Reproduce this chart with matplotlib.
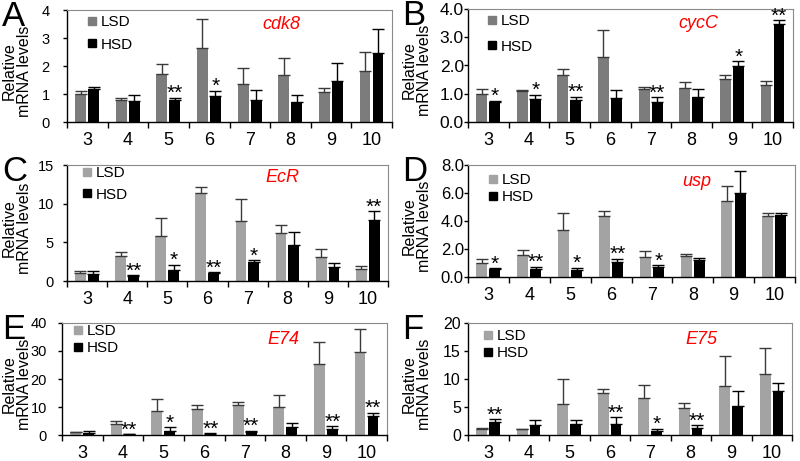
import numpy as np
import matplotlib
matplotlib.use("Agg")
import matplotlib.pyplot as plt
from matplotlib.lines import Line2D
from matplotlib.ticker import FormatStrFormatter

plt.rcParams['font.family'] = ['Liberation Sans', 'DejaVu Sans']

stages = ['3', '4', '5', '6', '7', '8', '9', '10']

# panel A - cdk8
cdk8_lsd = [1.0, 0.77, 1.72, 2.65, 1.35, 1.67, 1.07, 1.82]
cdk8_lsd_err = [0.12, 0.08, 0.35, 1.03, 0.58, 0.6, 0.13, 0.68]
cdk8_hsd = [1.17, 0.75, 0.77, 0.92, 0.77, 0.72, 1.47, 2.48]
cdk8_hsd_err = [0.08, 0.2, 0.1, 0.2, 0.36, 0.23, 0.63, 0.84]
cdk8_sig = ['', '', '**', '*', '', '', '', '']

# panel B - cycC
cycc_lsd = [1.0, 1.1, 1.68, 2.3, 1.18, 1.2, 1.52, 1.32]
cycc_lsd_err = [0.18, 0.02, 0.2, 0.95, 0.07, 0.2, 0.16, 0.13]
cycc_hsd = [0.7, 0.82, 0.78, 0.85, 0.7, 0.88, 1.97, 3.48]
cycc_hsd_err = [0.05, 0.15, 0.12, 0.3, 0.17, 0.3, 0.18, 0.12]
cycc_sig = ['*', '*', '**', '', '**', '', '*', '**']

# panel C - EcR
ecr_lsd = [1.0, 3.2, 5.8, 11.4, 7.7, 6.2, 3.1, 1.6]
ecr_lsd_err = [0.3, 0.6, 2.3, 0.7, 2.9, 1.0, 1.0, 0.4]
ecr_hsd = [0.9, 0.6, 1.4, 1.0, 2.5, 4.6, 1.8, 7.9]
ecr_hsd_err = [0.4, 0.15, 0.7, 0.1, 0.2, 1.8, 0.5, 1.1]
ecr_sig = ['', '**', '*', '**', '*', '', '', '**']

# panel D - usp
usp_lsd = [1.0, 1.6, 3.35, 4.35, 1.45, 1.5, 5.45, 4.35]
usp_lsd_err = [0.3, 0.3, 1.2, 0.35, 0.4, 0.15, 1.05, 0.25]
usp_hsd = [0.55, 0.6, 0.5, 1.1, 0.7, 1.2, 6.0, 4.45]
usp_hsd_err = [0.07, 0.15, 0.15, 0.2, 0.15, 0.15, 1.6, 0.1]
usp_sig = ['*', '**', '*', '**', '*', '', '', '']

# panel E - E74
e74_lsd = [1.0, 4.0, 8.7, 9.3, 10.7, 10.0, 25.5, 29.7]
e74_lsd_err = [0.2, 1.0, 4.1, 1.4, 1.1, 4.2, 7.8, 8.3]
e74_hsd = [0.8, 0.2, 1.5, 0.5, 0.9, 2.9, 2.2, 6.8]
e74_hsd_err = [0.8, 0.1, 1.2, 0.2, 0.6, 1.3, 1.0, 1.1]
e74_sig = ['', '**', '*', '**', '**', '', '**', '**']

# panel F - E75
e75_lsd = [1.1, 1.0, 5.6, 7.5, 6.6, 4.9, 8.8, 10.9]
e75_lsd_err = [0.1, 0.1, 4.4, 0.7, 2.4, 0.8, 5.3, 4.7]
e75_hsd = [2.3, 1.7, 1.9, 2.0, 0.8, 1.3, 5.2, 7.9]
e75_hsd_err = [0.5, 1.0, 0.8, 1.2, 0.3, 0.4, 2.7, 1.3]
e75_sig = ['**', '', '', '**', '*', '**', '', '']

W, H = 800, 461
fig = plt.figure(figsize=(W / 100, H / 100), dpi=100)

# layout in pixels: axes box (l, t, r, b), y tick label gap and size,
# legend marker x / first row y / spacing
panels = [
    dict(letter='A', gene='cdk8', lsd=cdk8_lsd, lsd_err=cdk8_lsd_err, hsd=cdk8_hsd,
         hsd_err=cdk8_hsd_err, sig=cdk8_sig, ymax=4, ystep=1, fmt='%d',
         box=(67, 10, 392, 122), col='#7c7c7c', gpos=(0.66, 0.87), ypad=13, ysize=10.5,
         leg=(25, 14, 0.55)),
    dict(letter='B', gene='cycC', lsd=cycc_lsd, lsd_err=cycc_lsd_err, hsd=cycc_hsd,
         hsd_err=cycc_hsd_err, sig=cycc_sig, ymax=4, ystep=1, fmt='%.1f',
         box=(468, 9, 793, 122), col='#7c7c7c', gpos=(0.71, 0.87), ypad=0, ysize=12.5,
         leg=(24, 14, 0.75)),
    dict(letter='C', gene='EcR', lsd=ecr_lsd, lsd_err=ecr_lsd_err, hsd=ecr_hsd,
         hsd_err=ecr_hsd_err, sig=ecr_sig, ymax=15, ystep=5, fmt='%d',
         box=(67, 165, 388, 281), col='#a3a3a3', gpos=(0.67, 0.89), ypad=9, ysize=10.5,
         leg=(20, 10, 0.5)),
    dict(letter='D', gene='usp', lsd=usp_lsd, lsd_err=usp_lsd_err, hsd=usp_hsd,
         hsd_err=usp_hsd_err, sig=usp_sig, ymax=8, ystep=2, fmt='%.1f',
         box=(468, 165, 795, 277), col='#a3a3a3', gpos=(0.70, 0.85), ypad=0, ysize=12,
         leg=(25, 17, 0.2)),
    dict(letter='E', gene='E74', lsd=e74_lsd, lsd_err=e74_lsd_err, hsd=e74_hsd,
         hsd_err=e74_hsd_err, sig=e74_sig, ymax=40, ystep=10, fmt='%d',
         box=(62, 323, 387, 435), col='#a3a3a3', gpos=(0.68, 0.85), ypad=11, ysize=10.5,
         leg=(16, 10, 0.2)),
    dict(letter='F', gene='E75', lsd=e75_lsd, lsd_err=e75_lsd_err, hsd=e75_hsd,
         hsd_err=e75_hsd_err, sig=e75_sig, ymax=20, ystep=5, fmt='%d',
         box=(468, 323, 792, 435), col='#a3a3a3', gpos=(0.72, 0.85), ypad=3, ysize=11.5,
         leg=(20, 15, 0.2)),
]

x = np.arange(len(stages))
bw = 0.27
px = 100 / 72.0   # pixels per point

for p in panels:
    l, t, r, b = p['box']
    aw, ah = r - l, b - t
    ax = fig.add_axes([l / W, 1 - b / H, aw / W, ah / H])
    z = np.zeros(len(stages))
    ax.bar(x - 0.165, p['lsd'], bw, color=p['col'], zorder=2)
    ax.bar(x + 0.155, p['hsd'], bw, color='black', zorder=2)
    ax.errorbar(x - 0.165, p['lsd'], yerr=[z, p['lsd_err']], fmt='none', ecolor='#3a3a3a',
                elinewidth=1, capsize=4, capthick=1, zorder=3)
    ax.errorbar(x + 0.155, p['hsd'], yerr=[z, p['hsd_err']], fmt='none', ecolor='black',
                elinewidth=1, capsize=4, capthick=1, zorder=3)
    for i, s in enumerate(p['sig']):
        if s:
            ax.annotate(s, (x[i] + 0.155, p['hsd'][i] + p['hsd_err'][i]), xytext=(0, -1),
                        textcoords='offset points', ha='center', va='baseline',
                        fontsize=15)

    ax.set_xlim(-0.5, len(stages) - 0.5)
    ax.set_ylim(0, p['ymax'])
    ax.set_yticks(np.arange(0, p['ymax'] + p['ystep'] / 2, p['ystep']))
    ax.yaxis.set_major_formatter(FormatStrFormatter(p['fmt']))
    ax.set_xticks(np.arange(-0.5, len(stages), 1.0))
    ax.set_xticklabels([])
    ax.set_xticks(x, minor=True)
    ax.set_xticklabels(stages, minor=True, fontsize=13)
    ax.tick_params(axis='x', which='major', direction='out', length=4, width=1)
    ax.tick_params(axis='x', which='minor', length=0, pad=7.5)
    ax.tick_params(axis='y', direction='out', length=3, width=1, labelsize=p['ysize'],
                   pad=p['ypad'] / px)
    for sp in ['top', 'right']:
        ax.spines[sp].set_color('#8a8a8a')
        ax.spines[sp].set_linewidth(0.8)
    for sp in ['left', 'bottom']:
        ax.spines[sp].set_linewidth(1)

    mx, my, lsp = p['leg']
    handles = [Line2D([], [], marker='s', ls='', color=p['col'], markersize=6),
               Line2D([], [], marker='s', ls='', color='black', markersize=6)]
    ax.legend(handles, ['LSD', 'HSD'], loc='upper left', frameon=False,
              fontsize=11, handlelength=0.6, handletextpad=0.25, labelspacing=lsp,
              borderpad=0, borderaxespad=0,
              bbox_to_anchor=((mx - 4.6) / aw, 1 - (my - 8.8) / ah))
    ax.text(p['gpos'][0], p['gpos'][1], p['gene'], transform=ax.transAxes, color='red',
            style='italic', fontsize=13, ha='center', va='center')

    lx = 2 if l < 400 else 402
    fig.text(lx / W, 1 - (t - 10) / H, p['letter'], fontsize=25, ha='left', va='top')
    fig.text((lx + 15) / W, 1 - ((t + b) / 2 + 5) / H, 'Relative\nmRNA levels',
             rotation=90, ha='center', va='center', fontsize=11.5,
             multialignment='center', linespacing=1.0)

fig.savefig('out.png', dpi=100)
